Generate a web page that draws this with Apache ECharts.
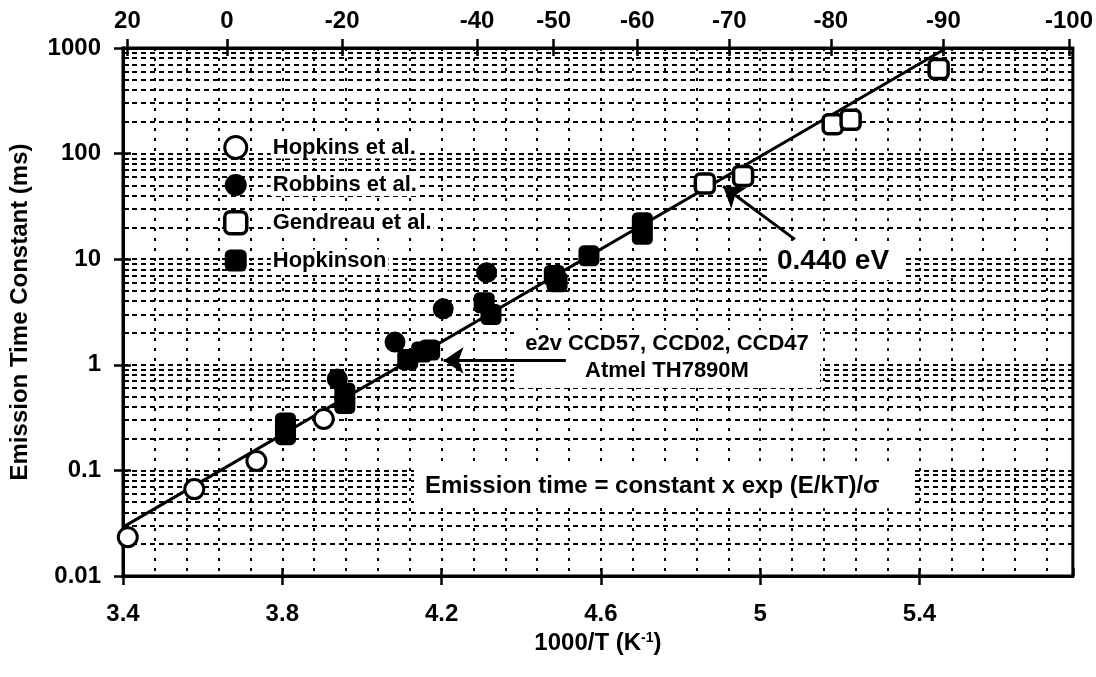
<!DOCTYPE html>
<html>
<head>
<meta charset="utf-8">
<script src="https://cdn.jsdelivr.net/npm/echarts@6/dist/echarts.min.js"></script>
<style>
  html, body { margin: 0; padding: 0; background: #fff; }
  #chart { width: 1096px; height: 677px; }
</style>
</head>
<body>
<div id="chart"></div>
<script>
// Measured emission time constants (ms) against 1000/T (1/K)
const hopkinsX = [3.412, 3.579, 3.735, 3.904];
const hopkinsY = [0.0233, 0.0665, 0.123, 0.307];

const robbinsX = [3.938, 4.083, 4.204, 4.313];
const robbinsY = [0.735, 1.64, 3.39, 7.45];

const gendreauX = [4.861, 4.957, 5.182, 5.227, 5.448];
const gendreauY = [52, 61.4, 190, 209, 632];

const hopkinsonX = [3.808, 3.808, 3.957, 3.957, 4.115, 4.15, 4.17, 4.307, 4.324, 4.483, 4.49, 4.57, 4.704, 4.704];
const hopkinsonY = [0.218, 0.281, 0.429, 0.54, 1.12, 1.32, 1.38, 3.87, 2.99, 7.0, 6.1, 10.8, 17.2, 22.2];

// Activation-energy fit line (0.440 eV), end points
const fitX = [3.4, 5.468];
const fitY = [0.029, 1000];

// Axis ranges and tick labels
const xMin = 3.4, xMax = 5.785, xStep = 0.4;
const yLabels = [0.01, 0.1, 1, 10, 100, 1000];
const topTempsC = [20, 0, -20, -40, -50, -60, -70, -80, -90, -100];

// Annotation arrows: [tail, head] in data coordinates
const energyArrow = [[5.087, 15.4], [4.907, 49.1]];
const deviceArrow = [[4.512, 1.10], [4.205, 1.10]];

const FONT = '"Liberation Sans", Arial, Helvetica, sans-serif';
const pairs = (xs, ys) => xs.map((x, i) => [x, ys[i]]);
const topTickPos = topTempsC.map(t => 1000 / (t + 273.15));

const gridDashH = { color: '#000', width: 2, type: [5, 4] };
const gridDashV = { color: '#000', width: 2, type: [3, 7] };
const labelStyle = { fontFamily: FONT, fontWeight: 'bold', fontSize: 24, color: '#000' };

const chart = echarts.init(document.getElementById('chart'), null, { renderer: 'canvas' });

const option = {
  backgroundColor: '#fff',
  animation: false,
  textStyle: { fontFamily: FONT },
  grid: {
    left: 121, right: 21, top: 48, bottom: 101,
    show: true, backgroundColor: '#fff', borderColor: '#000', borderWidth: 3
  },
  legend: {
    orient: 'vertical',
    left: 218, top: 130,
    itemWidth: 22, itemHeight: 22, itemGap: 14,
    formatter: name => '{g|}{t|' + name + '}',
    textStyle: {
      fontFamily: FONT, fontWeight: 'bold', fontSize: 22, color: '#000',
      rich: {
        g: { width: 19 },
        t: { fontFamily: FONT, fontWeight: 'bold', fontSize: 22, color: '#000', lineHeight: 24, backgroundColor: '#fff', padding: [0, 2] }
      }
    },
    data: [
      { name: 'Hopkins et al.', icon: 'circle', itemStyle: { color: '#fff', borderColor: '#000', borderWidth: 3, opacity: 1 } },
      { name: 'Robbins et al.', icon: 'circle', itemStyle: { color: '#000', borderWidth: 0, opacity: 1 } },
      { name: 'Gendreau et al.', icon: 'roundRect', itemStyle: { color: '#fff', borderColor: '#000', borderWidth: 3.5, opacity: 1 } },
      { name: 'Hopkinson', icon: 'roundRect', itemStyle: { color: '#000', borderWidth: 0, opacity: 1 } }
    ]
  },
  xAxis: [
    {
      type: 'value', position: 'bottom',
      min: xMin, max: xMax, interval: xStep,
      axisLine: { lineStyle: { color: '#000', width: 3 } },
      axisTick: { length: 9, lineStyle: { color: '#000', width: 2.5 } },
      axisLabel: Object.assign({}, labelStyle, {
        margin: 26, showMaxLabel: false,
        formatter: v => String(Math.round(v * 10) / 10)
      }),
      splitLine: { show: true, lineStyle: gridDashV },
      minorTick: { show: false, splitNumber: 5 },
      minorSplitLine: { show: true, lineStyle: gridDashV },
      name: '1000/T (K{sup|-1})',
      nameLocation: 'middle', nameGap: 49,
      nameTextStyle: Object.assign({}, labelStyle, {
        rich: { sup: { fontFamily: FONT, fontWeight: 'bold', fontSize: 14, verticalAlign: 'top', padding: [0, 0, 11, 0] } }
      })
    },
    {
      type: 'value', position: 'top',
      min: xMin, max: xMax,
      axisLine: { lineStyle: { color: '#000', width: 3 } },
      axisTick: { length: 9, customValues: topTickPos, lineStyle: { color: '#000', width: 2.5 } },
      axisLabel: Object.assign({}, labelStyle, {
        margin: 15, customValues: topTickPos,
        formatter: v => String(Math.round(1000 / v - 273.15))
      }),
      splitLine: { show: false }
    },
    {
      // inner halves of the bottom ticks
      type: 'value', position: 'bottom',
      min: xMin, max: xMax, interval: xStep,
      axisLine: { show: false },
      axisTick: { inside: true, length: 8, lineStyle: { color: '#000', width: 2.5 } },
      axisLabel: { show: false }, splitLine: { show: false }
    },
    {
      // inner halves of the top ticks
      type: 'value', position: 'top',
      min: xMin, max: xMax,
      axisLine: { show: false },
      axisTick: { inside: true, length: 8, customValues: topTickPos, lineStyle: { color: '#000', width: 2.5 } },
      axisLabel: { show: false }, splitLine: { show: false }
    }
  ],
  yAxis: [
    {
      type: 'log', logBase: 10, position: 'left',
      min: yLabels[0], max: yLabels[yLabels.length - 1],
      axisLine: { lineStyle: { color: '#000', width: 3 } },
      axisTick: { length: 9, lineStyle: { color: '#000', width: 2.5 } },
      axisLabel: Object.assign({}, labelStyle, { margin: 22, formatter: v => String(v) }),
      splitLine: { show: true, lineStyle: gridDashH },
      minorTick: { show: false, splitNumber: 9 },
      minorSplitLine: { show: true, lineStyle: gridDashH },
      name: 'Emission Time Constant (ms)',
      nameLocation: 'middle', nameGap: 91, nameRotate: 90,
      nameTextStyle: labelStyle
    },
    {
      // inner ticks and minor ticks on the left axis
      type: 'log', logBase: 10, position: 'left',
      min: yLabels[0], max: yLabels[yLabels.length - 1],
      axisLine: { show: false },
      axisTick: { inside: true, length: 8, lineStyle: { color: '#000', width: 2.5 } },
      minorTick: { show: true, splitNumber: 9, length: 6, lineStyle: { color: '#000', width: 2 } },
      axisLabel: { show: false }, splitLine: { show: false }
    }
  ],
  series: [
    {
      name: 'fit', type: 'line', z: 5,
      data: pairs(fitX, fitY),
      showSymbol: false, symbol: 'none',
      lineStyle: { color: '#000', width: 3 },
      silent: true
    },
    {
      // annotation arrows
      name: 'arrows', type: 'line', z: 8,
      data: [], silent: true,
      markLine: {
        silent: true, animation: false,
        symbol: ['none', 'arrow'], symbolSize: 20,
        label: { show: false },
        emphasis: { disabled: true },
        lineStyle: { color: '#000', width: 3, type: 'solid', opacity: 1 },
        itemStyle: { color: '#000' },
        data: [
          [{ coord: energyArrow[0] }, { coord: energyArrow[1] }],
          [{ coord: deviceArrow[0] }, { coord: deviceArrow[1] }]
        ]
      }
    },
    {
      name: 'Gendreau et al.', type: 'scatter', z: 6,
      symbol: 'roundRect', symbolSize: 19,
      itemStyle: { color: '#fff', borderColor: '#000', borderWidth: 3.5, opacity: 1 },
      data: pairs(gendreauX, gendreauY)
    },
    {
      name: 'Hopkinson', type: 'scatter', z: 6,
      symbol: 'roundRect', symbolSize: 21,
      itemStyle: { color: '#000', borderColor: '#000', borderWidth: 0, opacity: 1 },
      data: pairs(hopkinsonX, hopkinsonY)
    },
    {
      name: 'Robbins et al.', type: 'scatter', z: 7,
      symbol: 'circle', symbolSize: 21,
      itemStyle: { color: '#000', borderColor: '#000', borderWidth: 0, opacity: 1 },
      data: pairs(robbinsX, robbinsY)
    },
    {
      name: 'Hopkins et al.', type: 'scatter', z: 7,
      symbol: 'circle', symbolSize: 19,
      itemStyle: { color: '#fff', borderColor: '#000', borderWidth: 3, opacity: 1 },
      data: pairs(hopkinsX, hopkinsY)
    }
  ],
  graphic: [
    { type: 'rect', z: 3, shape: { x: 514, y: 330, width: 306, height: 58 }, style: { fill: '#fff' } },
    { type: 'text', z: 4, x: 667, y: 344,
      style: { text: 'e2v CCD57, CCD02, CCD47', font: 'bold 22px ' + FONT, fill: '#000', align: 'center', verticalAlign: 'middle' } },
    { type: 'text', z: 4, x: 667, y: 371,
      style: { text: 'Atmel TH7890M', font: 'bold 22px ' + FONT, fill: '#000', align: 'center', verticalAlign: 'middle' } },
    { type: 'rect', z: 3, shape: { x: 768, y: 242, width: 134, height: 38 }, style: { fill: '#fff' } },
    { type: 'text', z: 4, x: 777, y: 261,
      style: { text: '0.440 eV', font: 'bold 28px ' + FONT, fill: '#000', align: 'left', verticalAlign: 'middle' } },
    { type: 'rect', z: 3, shape: { x: 414, y: 467, width: 500, height: 38 }, style: { fill: '#fff' } },
    { type: 'text', z: 4, x: 425, y: 486,
      style: { text: 'Emission time = constant x exp (E/kT)/\u03c3', font: 'bold 24px ' + FONT, fill: '#000', align: 'left', verticalAlign: 'middle' } }
  ]
};

chart.setOption(option);
</script>
</body>
</html>
